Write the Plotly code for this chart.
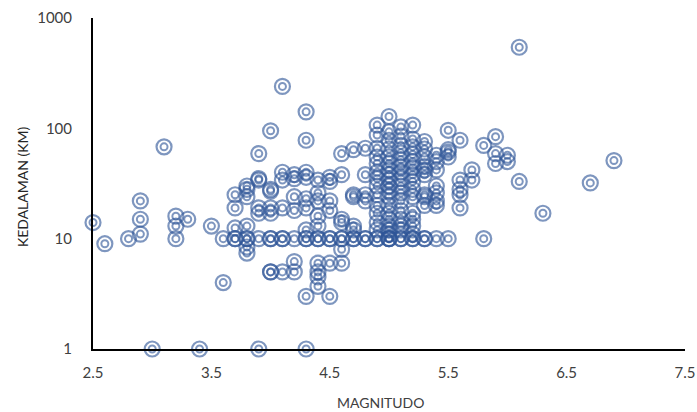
import plotly.graph_objects as go

# Earthquake magnitude vs depth
magnitude = (
    [2.5, 2.6, 2.8, 2.9, 2.9, 2.9, 3.0, 3.1, 3.2, 3.2, 3.2, 3.3, 3.4, 3.5, 3.6, 3.6]
    + [3.7] * 5 + [3.8] * 8 + [3.9] * 7 + [4.0] * 9 + [4.1] * 7 + [4.2] * 7
    + [4.3] * 11 + [4.4] * 11 + [4.5] * 8 + [4.6] * 8 + [4.7] * 7 + [4.8] * 6
    + [4.9] * 15 + [5.0] * 21 + [5.1] * 17 + [5.2] * 16 + [5.3] * 11 + [5.4] * 8
    + [5.5] * 5 + [5.6] * 5 + [5.7] * 2 + [5.8] * 2 + [5.9] * 3 + [6.0] * 2
    + [6.1] * 2 + [6.3, 6.7, 6.9]
)
depth_km = (
    [14, 9, 10, 22, 15, 11, 1, 68, 16, 13, 10, 15, 1, 13, 10, 4]
    + [25, 19, 12.5, 10, 10]
    + [30, 28, 24, 13, 10, 8.4, 7.4, 10]
    + [59, 35, 34, 19, 17, 10, 1]
    + [95, 28, 27, 19, 17, 10, 10, 5, 5]
    + [240, 40, 34, 19, 10, 10, 5]
    + [38, 35, 24, 18, 10, 6.2, 5]
    + [141, 78, 40, 36, 23, 19, 12, 10, 10, 3, 1]
    + [34, 26, 22, 16, 13, 10, 10, 6, 5, 4.5, 3.7]
    + [36, 33, 22, 18, 10, 10, 6, 3]
    + [59, 38, 15, 14, 10, 10, 8, 6]
    + [64, 25, 24, 13, 12, 10, 10]
    + [66, 38, 25, 22, 10, 10]
    + [107, 87, 66, 55, 48, 40, 35, 30, 25, 20, 17, 14, 12, 10, 10]
    + [128, 93, 78, 65, 55, 48, 42, 38, 34, 30, 27, 24, 20, 17, 15, 13, 12, 11, 10, 10, 10]
    + [103, 85, 70, 60, 52, 45, 40, 35, 30, 26, 22, 18, 15, 13, 12, 10, 10]
    + [107, 80, 68, 58, 50, 44, 38, 33, 28, 24, 17, 15, 13, 11, 10, 10]
    + [76, 65, 55, 45, 42, 38, 25, 24, 20, 10, 10]
    + [57, 50, 42, 30, 26, 22, 20, 10]
    + [96, 64, 61, 55, 10]
    + [78, 34, 28, 25, 19]
    + [42, 34]
    + [70, 10]
    + [84, 59, 48]
    + [57, 50]
    + [543, 33]
    + [17, 32, 51]
)

x_ticks = [2.5, 3.5, 4.5, 5.5, 6.5, 7.5]
y_ticks = [1, 10, 100, 1000]
y_tick_labels = ["1", "10", "100", "1000"]

ring_color = "rgba(47,85,151,0.62)"

fig = go.Figure()
fig.add_trace(go.Scatter(
    x=magnitude, y=depth_km, mode="markers", cliponaxis=False, showlegend=False,
    marker=dict(symbol="circle-open", size=15, color=ring_color,
                line=dict(width=2.2, color=ring_color)),
))
fig.add_trace(go.Scatter(
    x=magnitude, y=depth_km, mode="markers", cliponaxis=False, showlegend=False,
    marker=dict(symbol="circle-open", size=7, color=ring_color,
                line=dict(width=2, color=ring_color)),
))

font_family = "Lato, Open Sans, Liberation Sans, sans-serif"
text_color = "#404040"
fig.update_layout(
    width=697, height=412,
    margin=dict(l=93, r=12, t=18, b=63, autoexpand=False),
    paper_bgcolor="white", plot_bgcolor="white",
    font=dict(family=font_family, size=15, color=text_color),
    hovermode=False,
    xaxis=dict(
        range=[2.5, 7.5], tickvals=x_ticks, ticktext=[str(v) for v in x_ticks],
        showgrid=False, zeroline=False, showline=True, linecolor="#000", linewidth=2,
        ticks="", ticklabelstandoff=9, automargin=False, ticklabeloverflow="allow",
    ),
    yaxis=dict(
        type="log", range=[0, 3], tickvals=y_ticks, ticktext=y_tick_labels,
        showgrid=False, zeroline=False, showline=True, linecolor="#000", linewidth=2,
        ticks="", ticklabelstandoff=16, automargin=False,
    ),
    annotations=[
        dict(text="MAGNITUDO", xref="paper", yref="paper", x=0.485, y=-0.13,
             xanchor="center", yanchor="top", showarrow=False,
             font=dict(size=14, color=text_color, family=font_family)),
        dict(text="KEDALAMAN (KM)", xref="paper", yref="paper", x=-0.12, y=0.492,
             xanchor="center", yanchor="middle", textangle=-90, showarrow=False,
             font=dict(size=14, color="#262626", family=font_family)),
    ],
)

fig.write_html(
    "out.html",
    config={"displayModeBar": False},
    post_script="document.body.style.margin='0';document.body.style.overflow='hidden';",
)
